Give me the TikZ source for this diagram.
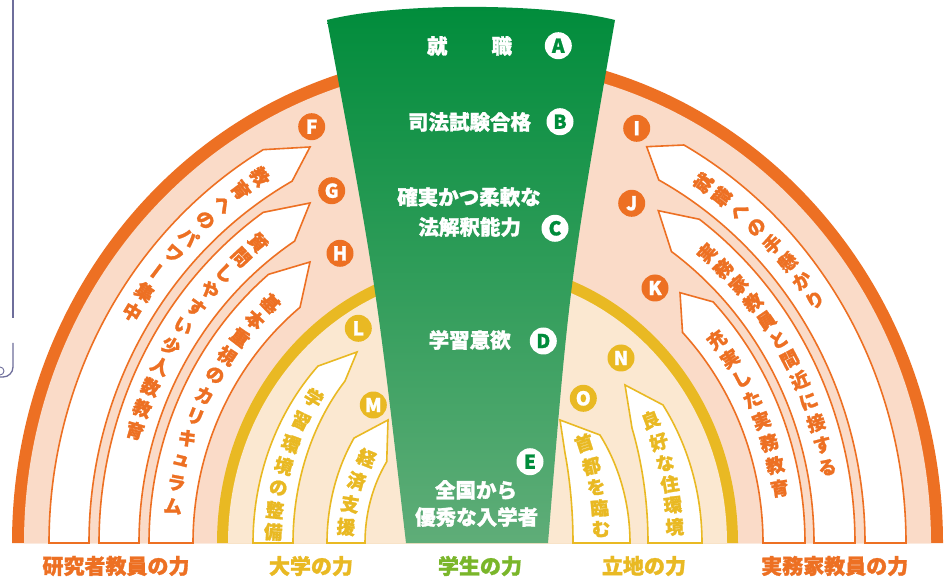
\documentclass[tikz,border=0pt]{standalone}
\usepackage{fontspec}
\usepackage{graphicx}
\newfontfamily\jp{Noto Sans CJK JP}[FakeBold=1.3]
\usetikzlibrary{calc}
\definecolor{orC}{RGB}{237,112,35}
\definecolor{peachC}{RGB}{250,219,200}
\definecolor{yelC}{RGB}{233,185,35}
\definecolor{creamC}{RGB}{251,232,209}
\definecolor{grTop}{RGB}{0,140,59}
\definecolor{grMid}{RGB}{28,153,84}
\definecolor{grBot}{RGB}{95,173,120}
\definecolor{grLab}{RGB}{122,182,42}
\definecolor{purC}{RGB}{110,110,155}
\tikzset{
  oband/.style={draw=orC, line width=1.6pt, fill=white, line join=miter},
  yband/.style={draw=yelC, line width=1.6pt, fill=white, line join=miter},
  ochr/.style={text=orC, font=\jp\bfseries\fontsize{18.5}{18.5}\selectfont, inner sep=0pt},
  ychr/.style={text=yelC, font=\jp\bfseries\fontsize{18.5}{18.5}\selectfont, inner sep=0pt},
  ftxt/.style={text=white, font=\jp\bfseries\fontsize{20.5}{20.5}\selectfont, inner sep=0pt},
  lab/.style={font=\jp\bfseries\fontsize{21}{21}\selectfont, inner sep=0pt},
  lcirc/.style={circle, minimum size=27pt, inner sep=0pt, font=\jp\bfseries\fontsize{19}{19}\selectfont},
  gcirc/.style={lcirc, fill=white, text=grTop},
  ocirc/.style={lcirc, fill=orC, text=white},
  ycirc/.style={lcirc, fill=yelC, text=white},
}
\newcommand\arcchars[8]{%
  \foreach \ch [count=\i from 0] in {#6}{%
    \pgfmathsetmacro\ph{#3+\i*(#4-#3)/(#5-1)}%
    \pgfmathsetmacro\sg{(#4-#3)/abs(#4-#3)}%
    \pgfmathsetmacro\rot{atan2(\sg*#2*cos(\ph),-\sg*sin(\ph))+90}%
    \node[#8,rotate=\rot] (#7\i) at ({477.5+#1*cos(\ph)},{36+#2*#1*sin(\ph)}) {\ch};
  }}
\begin{document}
\begin{tikzpicture}[x=1pt,y=1pt]
\useasboundingbox (0,0) rectangle (948,579);
\fill[white] (0,0) rectangle (948,579);
% left edge artefact
\draw[purC, line width=1.3pt] (13,579) -- (13,261);
\draw[purC, line width=1.3pt] (13,236) -- (13,212) arc[start angle=0,end angle=-90,radius=10pt] -- (0,202);
\draw[purC, line width=0.9pt] (0,212) arc[start angle=90,end angle=-90,radius=4pt];
\begin{scope}[shift={(477.5,36)}]
  % rings
  \fill[orC] (-465.5,0) arc[start angle=180,end angle=0,x radius=465.5pt,y radius=491.1pt] -- cycle;
  \fill[peachC] (-453.5,0) arc[start angle=180,end angle=0,x radius=453.5pt,y radius=478.4pt] -- cycle;
  \fill[yelC] (-260.5,0) arc[start angle=180,end angle=0,x radius=260.5pt,y radius=281.3pt] -- cycle;
  \fill[creamC] (-249.5,0) arc[start angle=180,end angle=0,x radius=249.5pt,y radius=269.5pt] -- cycle;
  % orange arrow bands (left)
  \draw[oband] (180:428.5pt and 454.2pt) arc[start angle=180,end angle=120,x radius=428.5pt,y radius=454.2pt]
     -- (-167.5,396) -- (118.5:388.5pt and 411.8pt) arc[start angle=118.5,end angle=180,x radius=388.5pt,y radius=411.8pt] -- cycle;
  \draw[oband] (180:378.5pt and 401.2pt) arc[start angle=180,end angle=124.5,x radius=378.5pt,y radius=401.2pt]
     -- (-167.5,340) -- (122.7:338.5pt and 358.8pt) arc[start angle=122.7,end angle=180,x radius=338.5pt,y radius=358.8pt] -- cycle;
  \draw[oband] (180:328.5pt and 348.2pt) arc[start angle=180,end angle=129.5,x radius=328.5pt,y radius=348.2pt]
     -- (-167.5,281) -- (128.6:284.5pt and 301.6pt) arc[start angle=128.6,end angle=180,x radius=284.5pt,y radius=301.6pt] -- cycle;
  % orange arrow bands (right)
  \draw[oband] (0:428.5pt and 454.2pt) arc[start angle=0,end angle=61.2,x radius=428.5pt,y radius=454.2pt]
     -- (169.2,396.3) -- (62.1:387.5pt and 410.75pt) arc[start angle=62.1,end angle=0,x radius=387.5pt,y radius=410.75pt] -- cycle;
  \draw[oband] (0:377.5pt and 400.15pt) arc[start angle=0,end angle=54,x radius=377.5pt,y radius=400.15pt]
     -- (180.8,332.3) -- (54.8:336.5pt and 356.7pt) arc[start angle=54.8,end angle=0,x radius=336.5pt,y radius=356.7pt] -- cycle;
  \draw[oband] (0:327.5pt and 347.15pt) arc[start angle=0,end angle=44,x radius=327.5pt,y radius=347.15pt]
     -- (202.5,250.3) -- (44.1:285.5pt and 302.6pt) arc[start angle=44.1,end angle=0,x radius=285.5pt,y radius=302.6pt] -- cycle;
  % yellow arrow bands
  \draw[yband] (180:224.5pt and 251.5pt) arc[start angle=180,end angle=135.3,x radius=224.5pt,y radius=251.5pt]
     -- (-120.5,191) -- (135.9:184.5pt and 232.8pt) arc[start angle=135.9,end angle=180,x radius=184.5pt,y radius=232.8pt] -- cycle;
  \draw[yband] (180:150.5pt and 183.5pt) arc[start angle=180,end angle=145.1,x radius=150.5pt,y radius=183.5pt]
     -- (-89.5,123) -- (143.8:112.5pt and 137.7pt) arc[start angle=143.8,end angle=180,x radius=112.5pt,y radius=137.7pt] -- cycle;
  \draw[yband] (0:224.5pt and 245pt) arc[start angle=0,end angle=34.3,x radius=224.5pt,y radius=245pt]
     -- (147.5,158) -- (25:170.5pt and 271.7pt) arc[start angle=25,end angle=0,x radius=170.5pt,y radius=271.7pt] -- cycle;
  \draw[yband] (0:152.5pt and 181.2pt) arc[start angle=0,end angle=36.6,x radius=152.5pt,y radius=181.2pt]
     -- (82.5,123) -- (23.6:95.5pt and 224.7pt) arc[start angle=23.6,end angle=0,x radius=95.5pt,y radius=224.7pt] -- cycle;
\end{scope}
% green funnel
\shade[top color=grTop, middle color=grMid, bottom color=grBot]
  (406,36) .. controls (375.8,297.5) .. (327,559)
  .. controls (395,576.5) and (545,576.5) .. (615,559)
  .. controls (569.5,297.5) .. (548,36) -- cycle;
% funnel texts
\node[ftxt] (tA) at (469.5,533) {就\hspace{44pt}職};
\node[ftxt] (tB) at (469.5,457) {司法試験合格};
\node[ftxt] (tC1) at (469,382) {確実かつ柔軟な};
\node[ftxt] (tC2) at (469.7,352) {法解釈能力};
\node[ftxt] (tD) at (469.7,239) {学習意欲};
\node[ftxt] (tE1) at (476,89) {全国から};
\node[ftxt] (tE2) at (476.7,62) {優秀な入学者};
% letter circles
\node[gcirc] (cA) at (558.3,533.3) {A};
\node[gcirc] (cB) at (560,457.3) {B};
\node[gcirc] (cC) at (555,350.7) {C};
\node[gcirc] (cD) at (543.3,238) {D};
\node[gcirc] (cE) at (530,117.3) {E};
\node[ocirc] (cF) at (311.7,452.3) {F};
\node[ocirc] (cG) at (331.7,388.3) {G};
\node[ocirc] (cH) at (340,325.7) {H};
\node[ocirc] (cI) at (636.7,450.7) {I};
\node[ocirc] (cJ) at (631.7,375.7) {J};
\node[ocirc] (cK) at (655,291) {K};
\node[ycirc] (cL) at (358.3,250.7) {L};
\node[ycirc] (cM) at (373.3,174) {M};
\node[ycirc] (cN) at (621,221) {N};
\node[ycirc] (cO) at (583.3,180.7) {O};
% orange arc texts
\arcchars{408.5}{1.06}{122.2}{147.75}{9}{教,育,へ,の,パ,ワ,{\rotatebox[origin=c]{90}{ー}},集,中}{tF}{ochr}
\arcchars{358.5}{1.06}{127.75}{162.8}{11}{質,問,し,や,す,い,少,人,数,教,育}{tG}{ochr}
\arcchars{306.5}{1.06}{132.5}{173.5}{11}{基,本,重,視,の,カ,リ,キ,ュ,ラ,ム}{tH}{ochr}
\arcchars{408}{1.06}{56.4}{34.2}{8}{就,職,へ,の,手,懸,か,り}{tI}{ochr}
\arcchars{357}{1.06}{50}{11.5}{12}{実,務,家,教,員,と,間,近,に,接,す,る}{tJ}{ochr}
\arcchars{306.5}{1.06}{38.7}{9.7}{8}{充,実,し,た,実,務,教,育}{tK}{ochr}
% yellow texts
\node[ychr,rotate=-31] (tL0) at (313.6,181) {学};
\node[ychr,rotate=-26] (tL1) at (300.8,158) {習};
\node[ychr,rotate=-20] (tL2) at (290.8,135) {環};
\node[ychr,rotate=-15] (tL3) at (283.6,113) {境};
\node[ychr,rotate=-11] (tL4) at (278.3,91) {の};
\node[ychr,rotate=-6] (tL5) at (274.9,69) {整};
\node[ychr,rotate=-3] (tL6) at (273.2,47) {備};
\node[ychr,rotate=-22] (tM0) at (366.5,121) {経};
\node[ychr,rotate=-15] (tM1) at (356.4,98) {済};
\node[ychr,rotate=-9] (tM2) at (350,75) {支};
\node[ychr,rotate=-5] (tM3) at (346,52) {援};
\node[ychr,rotate=21] (tN0) at (650.6,159) {良};
\node[ychr,rotate=17] (tN1) at (658.9,137) {好};
\node[ychr,rotate=13] (tN2) at (665,116) {な};
\node[ychr,rotate=9] (tN3) at (669.7,95) {住};
\node[ychr,rotate=6] (tN4) at (672.8,74) {環};
\node[ychr,rotate=3] (tN5) at (674.6,52) {境};
\node[ychr,rotate=18] (tO0) at (584,136) {首};
\node[ychr,rotate=14] (tO1) at (591.4,113) {都};
\node[ychr,rotate=9] (tO2) at (596.2,92) {を};
\node[ychr,rotate=5] (tO3) at (599.5,71) {臨};
\node[ychr,rotate=3] (tO4) at (601,50) {む};
% bottom labels
\node[lab, text=orC] (b1) at (116,13) {研究者教員の力};
\node[lab, text=yelC] (b2) at (311,13) {大学の力};
\node[lab, text=grLab] (b3) at (480,13) {学生の力};
\node[lab, text=yelC] (b4) at (644,13) {立地の力};
\node[lab, text=orC] (b5) at (834.7,13) {実務家教員の力};
\end{tikzpicture}
\end{document}
